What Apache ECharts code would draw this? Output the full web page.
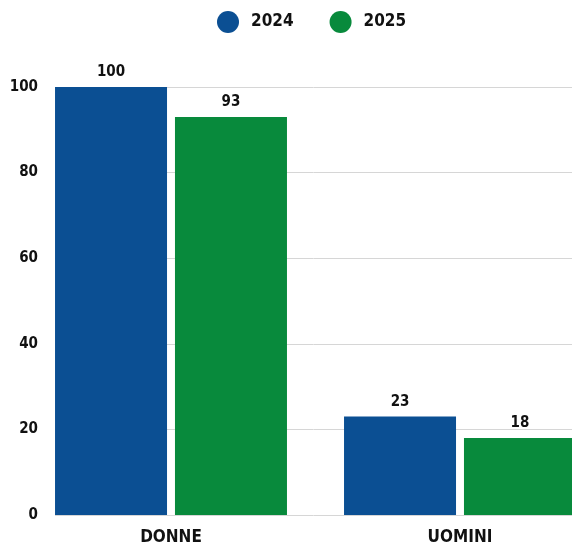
<!DOCTYPE html>
<html>
<head>
<meta charset="utf-8">
<script src="https://cdn.jsdelivr.net/npm/echarts@6/dist/echarts.min.js"></script>
<style>
  html, body { margin: 0; padding: 0; background: #fff; }
  #chart { width: 572px; height: 549px; }
</style>
</head>
<body>
<div id="chart"></div>
<script>
// dati
const categories = ["DONNE", "UOMINI"];
const seriesNames = ["2024", "2025"];
const values2024 = [100, 23];
const values2025 = [93, 18];
const yTicks = [0, 20, 40, 60, 80, 100];

const FONT = "'DejaVu Sans Condensed', 'DejaVu Sans', sans-serif";
const BLUE = "#0b4f93";
const GREEN = "#088a3c";

const chart = echarts.init(document.getElementById("chart"));

const option = {
  backgroundColor: "#fff",
  textStyle: { fontFamily: FONT, fontWeight: "bold", color: "#111" },
  legend: {
    top: 6,
    left: 212,
    icon: "circle",
    itemWidth: 22,
    itemHeight: 22,
    itemGap: 36,
    data: seriesNames,
    textStyle: {
      fontFamily: FONT,
      fontWeight: "bold",
      fontSize: 17,
      color: "#111",
      padding: [0, 0, 0, 7],
    },
  },
  grid: [
    // griglia per le linee e le etichette dell'asse y
    { left: 55, right: 0, top: 87, bottom: 34, outerBoundsMode: "none" },
    // griglia per le barre (categorie larghe 289px, la seconda esce dal bordo)
    { left: 26.5, width: 578, top: 87, bottom: 34, outerBoundsMode: "none" },
  ],
  xAxis: [
    { gridIndex: 0, type: "value", show: false },
    {
      gridIndex: 1,
      type: "category",
      data: categories,
      axisLine: { show: false },
      axisTick: { show: false },
      axisLabel: {
        margin: 14,
        fontFamily: FONT,
        fontWeight: "bold",
        fontSize: 17,
        color: "#111",
      },
    },
  ],
  yAxis: [
    {
      gridIndex: 0,
      type: "value",
      min: yTicks[0],
      max: yTicks[yTicks.length - 1],
      interval: 20,
      axisLine: { show: false },
      axisTick: { show: false },
      splitLine: { lineStyle: { color: "#d6d6d6", width: 1 } },
      axisLabel: {
        margin: 17,
        fontFamily: FONT,
        fontWeight: "bold",
        fontSize: 15,
        color: "#111",
      },
    },
    {
      gridIndex: 1,
      type: "value",
      min: 0,
      max: 100,
      show: false,
      splitLine: { show: false },
    },
  ],
  series: [
    {
      name: seriesNames[0],
      type: "bar",
      xAxisIndex: 1,
      yAxisIndex: 1,
      data: values2024,
      barWidth: 112,
      barGap: "7.1%",
      itemStyle: { color: BLUE },
      label: {
        show: true,
        position: "top",
        distance: 7,
        fontFamily: FONT,
        fontWeight: "bold",
        fontSize: 15,
        color: "#111",
      },
    },
    {
      name: seriesNames[1],
      type: "bar",
      xAxisIndex: 1,
      yAxisIndex: 1,
      data: values2025,
      barWidth: 112,
      barGap: "7.1%",
      itemStyle: { color: GREEN },
      label: {
        show: true,
        position: "top",
        distance: 7,
        fontFamily: FONT,
        fontWeight: "bold",
        fontSize: 15,
        color: "#111",
      },
    },
  ],
};

chart.setOption(option);
</script>
</body>
</html>
